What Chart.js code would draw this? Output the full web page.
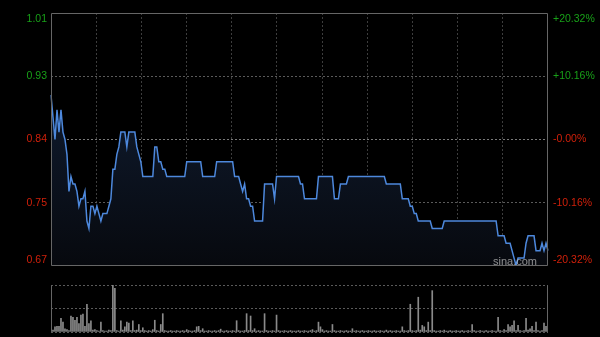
<!DOCTYPE html>
<html>
<head>
<meta charset="utf-8">
<script src="https://cdn.jsdelivr.net/npm/chart.js@4/dist/chart.umd.min.js"></script>
<style>
  html, body { margin: 0; padding: 0; background: #000; }
  #wrap { position: relative; width: 600px; height: 337px; overflow: hidden; }
  canvas { position: absolute; left: 0; }
  #price { top: 0; }
  #vol { top: 270px; }
</style>
</head>
<body>
<div id="wrap">
  <canvas id="price" width="600" height="278"></canvas>
  <canvas id="vol" width="600" height="67"></canvas>
</div>
<script>
// price axis: previous close 0.84, range +/-20.32%
const tickValues = [1.0107, 0.9253, 0.84, 0.7547, 0.6693];
const leftLabels = ["1.01", "0.93", "0.84", "0.75", "0.67"];
const rightLabels = ["+20.32%", "+10.16%", "-0.00%", "-10.16%", "-20.32%"];

const prices = [
  0.90, 0.87, 0.84, 0.88, 0.85, 0.88, 0.85, 0.84, 0.82, 0.77,
  0.79, 0.78, 0.78, 0.77, 0.75, 0.76, 0.76, 0.77, 0.73, 0.72,
  0.75, 0.75, 0.74, 0.75, 0.74, 0.73, 0.74, 0.74, 0.74, 0.75,
  0.76, 0.80, 0.80, 0.82, 0.83, 0.85, 0.85, 0.85, 0.83, 0.85,
  0.85, 0.85, 0.85, 0.83, 0.82, 0.81, 0.79, 0.79, 0.79, 0.79,
  0.79, 0.79, 0.83, 0.83, 0.81, 0.81, 0.80, 0.80, 0.79, 0.79,
  0.79, 0.79, 0.79, 0.79, 0.79, 0.79, 0.79, 0.79, 0.81, 0.81,
  0.81, 0.81, 0.81, 0.81, 0.81, 0.81, 0.79, 0.79, 0.79, 0.79,
  0.79, 0.79, 0.79, 0.81, 0.81, 0.81, 0.81, 0.81, 0.81, 0.81,
  0.81, 0.81, 0.79, 0.79, 0.79, 0.78, 0.77, 0.78, 0.76, 0.76,
  0.75, 0.75, 0.73, 0.73, 0.73, 0.73, 0.73, 0.78, 0.78, 0.78,
  0.78, 0.78, 0.76, 0.79, 0.79, 0.79, 0.79, 0.79, 0.79, 0.79,
  0.79, 0.79, 0.79, 0.79, 0.79, 0.78, 0.78, 0.76, 0.76, 0.76,
  0.76, 0.76, 0.76, 0.76, 0.79, 0.79, 0.79, 0.79, 0.79, 0.79,
  0.79, 0.79, 0.76, 0.76, 0.76, 0.78, 0.78, 0.78, 0.78, 0.79,
  0.79, 0.79, 0.79, 0.79, 0.79, 0.79, 0.79, 0.79, 0.79, 0.79,
  0.79, 0.79, 0.79, 0.79, 0.79, 0.79, 0.79, 0.79, 0.78, 0.78,
  0.78, 0.78, 0.78, 0.78, 0.78, 0.78, 0.76, 0.76, 0.76, 0.76,
  0.75, 0.75, 0.74, 0.74, 0.73, 0.73, 0.73, 0.73, 0.73, 0.73,
  0.73, 0.72, 0.72, 0.72, 0.72, 0.72, 0.72, 0.73, 0.73, 0.73,
  0.73, 0.73, 0.73, 0.73, 0.73, 0.73, 0.73, 0.73, 0.73, 0.73,
  0.73, 0.73, 0.73, 0.73, 0.73, 0.73, 0.73, 0.73, 0.73, 0.73,
  0.73, 0.73, 0.73, 0.73, 0.71, 0.71, 0.71, 0.71, 0.70, 0.70,
  0.70, 0.69, 0.68, 0.67, 0.68, 0.68, 0.68, 0.68, 0.70, 0.71,
  0.71, 0.71, 0.71, 0.69, 0.69, 0.69, 0.70, 0.69, 0.70, 0.69
];

// volume, relative to the panel top (100)
const volumes = [
  36, 4, 11, 12, 12, 29, 21, 7, 5, 3,
  34, 31, 25, 31, 18, 36, 38, 12, 59, 18,
  24, 4, 5, 3, 2, 21, 3, 2, 2, 4,
  3, 100, 93, 3, 2, 24, 4, 11, 21, 19,
  3, 24, 3, 4, 16, 3, 9, 3, 2, 3,
  2, 5, 25, 3, 2, 16, 39, 3, 2, 2,
  3, 2, 2, 3, 2, 2, 3, 2, 5, 3,
  2, 2, 3, 11, 12, 3, 7, 2, 2, 3,
  2, 2, 3, 2, 3, 6, 2, 2, 3, 2,
  2, 3, 2, 24, 3, 2, 2, 3, 39, 3,
  34, 3, 7, 2, 3, 2, 2, 39, 3, 2,
  2, 3, 2, 36, 3, 2, 2, 3, 2, 2,
  3, 2, 2, 2, 3, 2, 2, 3, 2, 2,
  3, 5, 2, 3, 21, 11, 5, 2, 3, 2,
  2, 16, 3, 2, 2, 3, 2, 2, 3, 2,
  2, 7, 2, 3, 2, 2, 3, 2, 2, 3,
  2, 2, 3, 2, 2, 3, 2, 2, 4, 2,
  3, 2, 2, 3, 2, 2, 11, 3, 2, 3,
  59, 3, 2, 3, 74, 4, 14, 11, 3, 21,
  3, 88, 3, 2, 2, 3, 2, 4, 2, 2,
  3, 2, 2, 3, 2, 2, 3, 2, 2, 3,
  2, 16, 3, 2, 2, 3, 2, 2, 3, 2,
  2, 3, 2, 2, 31, 3, 2, 5, 3, 16,
  11, 14, 24, 3, 14, 3, 2, 3, 29, 4,
  7, 12, 3, 21, 3, 2, 3, 19, 12, 3
];

const days = prices.map((p, i) => i + 1);

const GREEN = "#18a018";
const RED = "#d0200a";
const FONT = { family: "'Liberation Sans', Arial, sans-serif", size: 10.5 };
const LABEL_INSET = 0.008; // keeps the 1.01 / 0.67 labels inside the frame

function setPriceTicks(scale) {
  scale.ticks = tickValues.map((v, i) => {
    if (i === 0) return { value: v - LABEL_INSET };
    if (i === tickValues.length - 1) return { value: v + LABEL_INSET };
    return { value: v };
  });
}

const framePlugin = {
  id: "frame",
  afterDraw(chart, args, opts) {
    const { ctx, chartArea: a } = chart;
    const l = Math.round(a.left) + 0.5, r = Math.round(a.right) - 0.5;
    const t = Math.round(a.top) + 0.5, b = Math.round(a.bottom) - 0.5;
    ctx.save();
    ctx.strokeStyle = "#666";
    ctx.lineWidth = 1;
    ctx.beginPath();
    ctx.moveTo(l, t); ctx.lineTo(l, b);
    ctx.moveTo(r, t); ctx.lineTo(r, b);
    if (opts.full) {
      ctx.moveTo(l, t); ctx.lineTo(r, t);
      ctx.moveTo(l, b); ctx.lineTo(r, b);
    }
    ctx.stroke();
    if (opts.mark) {
      ctx.fillStyle = "rgba(200,200,200,0.7)";
      ctx.font = "11px 'Liberation Sans', Arial, sans-serif";
      ctx.textAlign = "right";
      ctx.textBaseline = "alphabetic";
      ctx.fillText(opts.mark, a.right - 11, a.bottom - 1);
    }
    ctx.restore();
  }
};

new Chart(document.getElementById("price"), {
  type: "line",
  data: {
    labels: days,
    datasets: [{
      data: prices,
      borderColor: "#4d88dc",
      borderWidth: 1.5,
      pointRadius: 0,
      tension: 0,
      fill: "start",
      backgroundColor: (c) => {
        const a = c.chart.chartArea;
        if (!a) return "transparent";
        const g = c.chart.ctx.createLinearGradient(0, a.top, 0, a.bottom);
        g.addColorStop(0, "#13233d");
        g.addColorStop(1, "#07090e");
        return g;
      }
    }]
  },
  options: {
    responsive: false,
    animation: false,
    devicePixelRatio: 1,
    layout: { padding: { top: 13, bottom: 12, left: 0, right: 0 } },
    plugins: {
      legend: { display: false },
      tooltip: { enabled: false },
      frame: { full: true, mark: "sina.com" }
    },
    scales: {
      x: { type: "category", display: false, offset: false },
      xg: {
        type: "linear", position: "bottom", min: 0, max: 11,
        ticks: { display: false, stepSize: 1 },
        grid: {
          drawTicks: false,
          color: (c) => (c.index === 0 || c.index === 11) ? "transparent" : "#3d3d3d"
        },
        border: { display: false, dash: [2, 2] },
        afterFit: (s) => { s.height = 0; }
      },
      y: {
        position: "left",
        min: tickValues[4], max: tickValues[0],
        afterBuildTicks: setPriceTicks,
        afterFit: (s) => { s.width = 51; },
        ticks: {
          padding: 4,
          font: FONT,
          color: (c) => c.index < 2 ? GREEN : RED,
          callback: (v, i) => leftLabels[i]
        },
        grid: {
          drawTicks: false,
          color: (c) => (c.index === 0 || c.index === 4) ? "transparent" : (c.index === 2 ? "#7a7a7a" : "#5a5a5a")
        },
        border: { display: false, dash: [2, 2] }
      },
      y2: {
        position: "right",
        min: tickValues[4], max: tickValues[0],
        afterBuildTicks: setPriceTicks,
        afterFit: (s) => { s.width = 52; },
        ticks: {
          padding: 5,
          font: FONT,
          color: (c) => c.index < 2 ? GREEN : RED,
          callback: (v, i) => rightLabels[i]
        },
        grid: { display: false, drawTicks: false },
        border: { display: false }
      }
    }
  },
  plugins: [framePlugin]
});

new Chart(document.getElementById("vol"), {
  type: "bar",
  data: {
    labels: days,
    datasets: [{
      data: volumes,
      backgroundColor: "#8a8a8a",
      barThickness: 1
    }]
  },
  options: {
    responsive: false,
    animation: false,
    devicePixelRatio: 1,
    layout: { padding: { top: 15, bottom: 5, left: 0, right: 52 } },
    plugins: {
      legend: { display: false },
      tooltip: { enabled: false },
      frame: { full: false }
    },
    scales: {
      x: { type: "category", display: false, offset: false },
      y: {
        min: 0, max: 100,
        afterFit: (s) => { s.width = 51; },
        ticks: { display: false, stepSize: 50 },
        grid: { drawTicks: false, color: "#5a5a5a" },
        border: { display: false, dash: [2, 2] }
      }
    }
  },
  plugins: [framePlugin]
});
</script>
</body>
</html>
